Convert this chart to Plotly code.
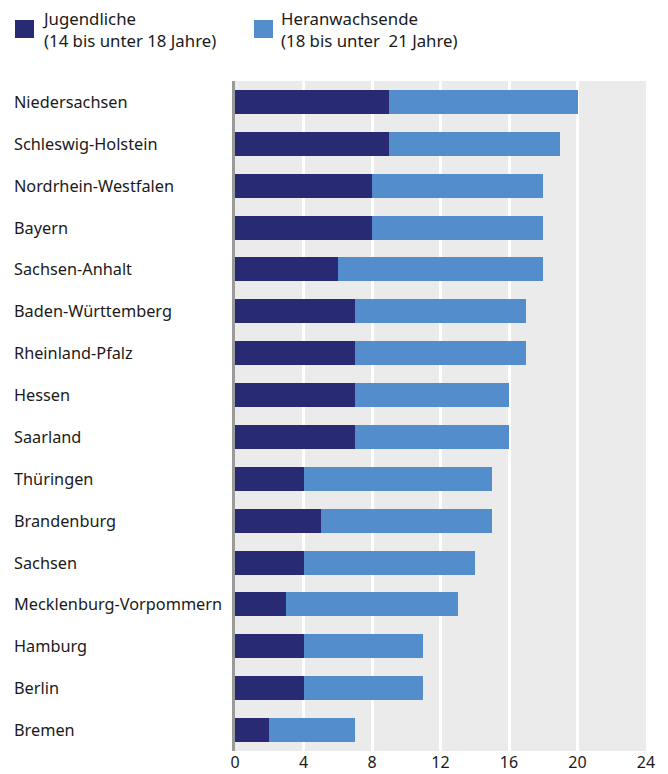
import plotly.graph_objects as go

laender = ["Niedersachsen", "Schleswig-Holstein", "Nordrhein-Westfalen", "Bayern",
           "Sachsen-Anhalt", "Baden-Württemberg", "Rheinland-Pfalz", "Hessen",
           "Saarland", "Thüringen", "Brandenburg", "Sachsen",
           "Mecklenburg-Vorpommern", "Hamburg", "Berlin", "Bremen"]
jugendliche = [9, 9, 8, 8, 6, 7, 7, 7, 7, 4, 5, 4, 3, 4, 4, 2]
gesamt = [20, 19, 18, 18, 18, 17, 17, 16, 16, 15, 15, 14, 13, 11, 11, 7]
heranwachsende = [g - j for g, j in zip(gesamt, jugendliche)]
x_ticks = [0, 4, 8, 12, 16, 20, 24]

legend_names = ["Jugendliche<br>(14 bis unter 18 Jahre)",
                "Heranwachsende<br>(18 bis unter  21 Jahre)"]
c_dark = "#282a73"
c_light = "#548dcb"
FONT = "Noto Sans"

# page body has an 8px margin, so the figure is 8px smaller and shifted
W, H = 660, 766
ML, MT, MR, MB = 227, 73, 22, 23
PW = W - ML - MR   # 411
PH = H - MT - MB   # 670

fig = go.Figure()
fig.add_trace(go.Bar(y=laender, x=jugendliche, orientation="h", marker_color=c_dark,
                     marker_line_width=0, width=0.573, name="Jugendliche"))
fig.add_trace(go.Bar(y=laender, x=heranwachsende, orientation="h", marker_color=c_light,
                     marker_line_width=0, width=0.573, name="Heranwachsende"))

# left-aligned category labels
for name in laender:
    fig.add_annotation(x=0, xref="paper", y=name, yref="y", text=name, showarrow=False,
                       xanchor="left", xshift=-223, font=dict(family=FONT, size=16.3, color="#1a1a1a"))

# custom legend (page coordinates converted to paper coordinates)
def px(xp):
    return (xp - 8 - ML) / PW

def py(yp):
    return 1 + (MT + 8 - yp) / PH

for i, (lbl, col) in enumerate(zip(legend_names, [c_dark, c_light])):
    x0 = 15 if i == 0 else 254
    fig.add_shape(type="rect", xref="paper", yref="paper",
                  x0=px(x0), x1=px(x0 + 19), y0=py(38), y1=py(20),
                  fillcolor=col, line_width=0)
    fig.add_annotation(xref="paper", yref="paper", x=px(x0 + 26), y=py(29.5),
                       text=lbl, showarrow=False, align="left",
                       xanchor="left", yanchor="middle", borderpad=0,
                       font=dict(family=FONT, size=16.8, color="#1a1a1a"))

fig.update_layout(
    width=W, height=H, barmode="stack", showlegend=False,
    margin=dict(l=ML, r=MR, t=MT, b=MB),
    paper_bgcolor="white", plot_bgcolor="#ebebeb", bargap=0.427,
    font=dict(family=FONT, size=16, color="#1a1a1a"),
)
fig.update_xaxes(range=[0, 24], tickvals=x_ticks, ticktext=[str(t) for t in x_ticks],
                 showgrid=True, gridcolor="white", gridwidth=3, zeroline=False,
                 showline=False, ticks="", tickfont=dict(size=16), fixedrange=True,
                 automargin=False)
fig.update_yaxes(categoryorder="array", categoryarray=laender, autorange="reversed",
                 showticklabels=False, showgrid=False, zeroline=False, automargin=False,
                 showline=True, linecolor="#9a9a9a", linewidth=3, ticks="")

fig.write_html("out.html")
